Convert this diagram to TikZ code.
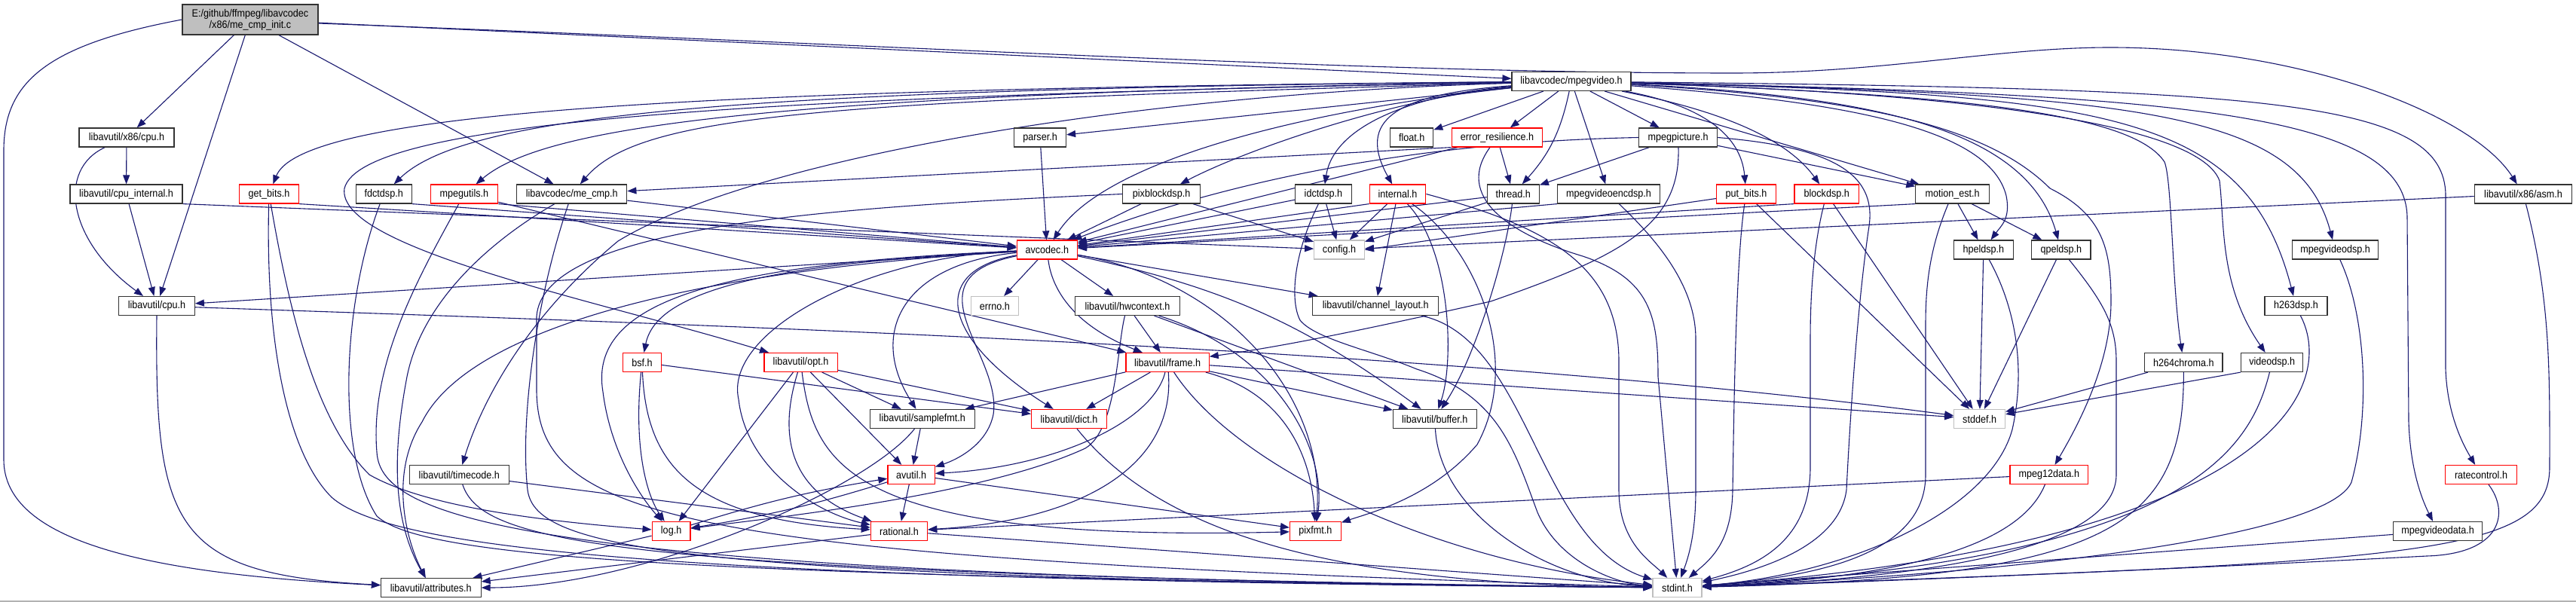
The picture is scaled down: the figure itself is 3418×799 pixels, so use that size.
\documentclass[tikz,border=0pt]{standalone}
\usepackage{fontspec}
\setmainfont{Liberation Sans}[FakeStretch=0.9]
\usetikzlibrary{arrows.meta}
\definecolor{edgec}{HTML}{191970}
\definecolor{boxg}{HTML}{BFBFBF}
\newcommand{\fsz}{\fontsize{14pt}{15pt}\selectfont}
\pgfdeclarelayer{back}
\pgfdeclarelayer{bg}
\pgfsetlayers{back,bg,main}
\begin{document}
\begin{tikzpicture}[x=1pt,y=-1pt,
  nb/.style={draw=black!80,line width=1.2pt,fill=white,minimum height=25pt,inner sep=0pt,font=\fsz},
  nr/.style={nb,draw=red},
  ng/.style={nb,draw=boxg},
  e/.style={draw=edgec,line width=1.1pt,-{Triangle[length=12pt,width=9pt]}}]
\useasboundingbox (0,0) rectangle (3418,799);
\begin{pgfonlayer}{back}
\fill[white] (0,0) rectangle (3418,799);
\draw[black!30,line width=2pt] (0,798) -- (3418,798);
\end{pgfonlayer}

% ---------- nodes ----------
\node[nb,fill=boxg,minimum width=180pt,minimum height=40pt,align=center] (root) at (332,26) {E:/github/ffmpeg/libavcodec\\/x86/me\_cmp\_init.c};
\node[nb,minimum width=158pt] (mpegvideo) at (2085,108) {libavcodec/mpegvideo.h};
\node[nb,minimum width=126pt] (x86cpu) at (168,182.5) {libavutil/x86/cpu.h};
\node[nb,minimum width=69pt] (parser) at (1380,182.5) {parser.h};
\node[nb,minimum width=57pt] (float) at (1873.2,182.5) {float.h};
\node[nr,minimum width=120.6pt] (errres) at (1986.5,182.5) {error\_resilience.h};
\node[nb,minimum width=104pt] (mpegpicture) at (2226.6,182.5) {mpegpicture.h};
\node[nb,minimum width=149pt] (cpuinternal) at (167.5,257.5) {libavutil/cpu\_internal.h};
\node[nr,minimum width=79pt] (getbits) at (357,257.5) {get\_bits.h};
\node[nb,minimum width=74pt] (fdctdsp) at (509.2,257.5) {fdctdsp.h};
\node[nr,minimum width=89.6pt] (mpegutils) at (615.9,257.5) {mpegutils.h};
\node[nb,minimum width=146.2pt] (mecmp) at (758.7,257.5) {libavcodec/me\_cmp.h};
\node[nb,minimum width=102.6pt] (pixblockdsp) at (1541.1,257.5) {pixblockdsp.h};
\node[nb,minimum width=75pt] (idctdsp) at (1755.9,257.5) {idctdsp.h};
\node[nr,minimum width=74.6pt] (internal) at (1854.5,257.5) {internal.h};
\node[nb,minimum width=69pt] (thread) at (2007.8,257.5) {thread.h};
\node[nb,minimum width=135.8pt] (mpegvideoencdsp) at (2134.6,257.5) {mpegvideoencdsp.h};
\node[nr,minimum width=79pt] (putbits) at (2317,257.5) {put\_bits.h};
\node[nr,minimum width=85.4pt] (blockdsp) at (2423.7,257.5) {blockdsp.h};
\node[nb,minimum width=97.6pt] (motionest) at (2590.6,257.5) {motion\_est.h};
\node[nb,minimum width=129.4pt] (asm) at (3348,257.5) {libavutil/x86/asm.h};
\node[nr,minimum width=80pt] (avcodec) at (1389.3,331.5) {avcodec.h};
\node[ng,minimum width=66.6pt] (config) at (1777,331.5) {config.h};
\node[nb,minimum width=78.4pt] (hpeldsp) at (2631.9,331.5) {hpeldsp.h};
\node[nb,minimum width=78.4pt] (qpeldsp) at (2734.8,331.5) {qpeldsp.h};
\node[nb,minimum width=114.5pt] (mpegvideodsp) at (3098.6,331.5) {mpegvideodsp.h};
\node[nb,minimum width=100.6pt] (cpu) at (208,406) {libavutil/cpu.h};
\node[ng,minimum width=62.8pt] (errno) at (1319.9,406) {errno.h};
\node[nb,minimum width=138.6pt] (hwcontext) at (1495.9,406) {libavutil/hwcontext.h};
\node[nb,minimum width=166.8pt] (chlayout) at (1825.2,406) {libavutil/channel\_layout.h};
\node[nb,minimum width=83pt] (h263dsp) at (3046.5,406) {h263dsp.h};
\node[nr,minimum width=50.9pt] (bsf) at (851.9,481) {bsf.h};
\node[nr,minimum width=97.2pt] (opt) at (1062.5,481) {libavutil/opt.h};
\node[nr,minimum width=110.2pt] (frame) at (1549.1,481) {libavutil/frame.h};
\node[nb,minimum width=103.3pt] (h264chroma) at (2897.3,481) {h264chroma.h};
\node[nb,minimum width=82.3pt] (videodsp) at (3014.7,481) {videodsp.h};
\node[nb,minimum width=138.6pt] (samplefmt) at (1223.8,556) {libavutil/samplefmt.h};
\node[nr,minimum width=99.9pt] (dict) at (1418.5,556) {libavutil/dict.h};
\node[nb,minimum width=110.6pt] (buffer) at (1903.8,556) {libavutil/buffer.h};
\node[ng,minimum width=67.7pt] (stddef) at (2626.6,556) {stddef.h};
\node[nb,minimum width=131.8pt] (timecode) at (609.3,630) {libavutil/timecode.h};
\node[nr,minimum width=62.4pt] (avutil) at (1209.1,630) {avutil.h};
\node[nr,minimum width=103.7pt] (mpeg12data) at (2718.8,630) {mpeg12data.h};
\node[nr,minimum width=94.9pt] (ratecontrol) at (3292,630) {ratecontrol.h};
\node[nr,minimum width=50.9pt] (log) at (890.6,705) {log.h};
\node[nr,minimum width=75.4pt] (rational) at (1193,705) {rational.h};
\node[nr,minimum width=67.8pt] (pixfmt) at (1745.4,705) {pixfmt.h};
\node[nb,minimum width=118.4pt] (mpegvideodata) at (3234.6,705) {mpegvideodata.h};
\node[nb,minimum width=132.6pt] (attributes) at (571.8,780) {libavutil/attributes.h};
\node[ng,minimum width=65pt] (stdint) at (2225.5,780) {stdint.h};

% ---------- edges ----------
\begin{pgfonlayer}{bg}
% root
\draw[e] (root.west) .. controls (60,60) and (5,110) .. (5,200) -- (5,610) .. controls (5,720) and (200,762) .. (attributes);
\draw[e] (root) -- (x86cpu);
\draw[e] (root) -- (cpu);
\draw[e] (root) -- (mecmp);
\draw[e] (root) -- (mpegvideo);
\draw[e] ([yshift=-5pt]root.east) .. controls (1200,60) and (1800,97) .. (2300,97) .. controls (2500,97) and (2650,63) .. (2800,63) .. controls (3050,63) and (3280,150) .. (asm);
% x86 / cpu
\draw[e] (x86cpu) -- (cpuinternal);
\draw[e] (x86cpu) .. controls (75,225) and (90,320) .. (cpu);
\draw[e] (cpuinternal) -- (cpu);
\draw[e] (cpuinternal.south east) -- (config);
\draw[e] (cpu.south) .. controls (205,700) and (230,762) .. (attributes);
\draw[e] (cpu) .. controls (900,430) and (1900,460) .. (stddef);
\draw[e] (asm) -- (config);
\draw[e] (asm) .. controls (3385,400) and (3383,500) .. (3383,620) .. controls (3383,740) and (3200,745) .. (stdint);
% mpegvideo.h
\draw[e] (mpegvideo) -- (float);
\draw[e] (mpegvideo) -- (errres);
\draw[e] (mpegvideo) -- (mpegpicture);
\draw[e] (mpegvideo) to[bend left=15] (thread);
\draw[e] (mpegvideo) -- (mpegvideoencdsp);
\draw[e] (mpegvideo) .. controls (1880,125) and (1770,165) .. (idctdsp);
\draw[e] (mpegvideo) .. controls (1850,125) and (1800,160) .. (internal);
\draw[e] (mpegvideo) -- (parser);
\draw[e] (mpegvideo) .. controls (1700,150) and (1460,220) .. (avcodec);
\draw[e] (mpegvideo) .. controls (1850,130) and (1650,200) .. (pixblockdsp);
\draw[e] (mpegvideo) .. controls (1100,135) and (850,150) .. (mecmp);
\draw[e] (mpegvideo) .. controls (1000,125) and (720,170) .. (mpegutils);
\draw[e] (mpegvideo) .. controls (1000,118) and (620,150) .. (fdctdsp);
\draw[e] (mpegvideo) .. controls (900,118) and (400,150) .. (getbits);
\draw[e] (mpegvideo) .. controls (1000,128) and (480,160) .. (457,250) .. controls (445,330) and (800,400) .. (opt);
\draw[e] (mpegvideo) .. controls (1500,125) and (1000,210) .. (820,320) .. controls (700,420) and (640,530) .. (timecode);
\draw[e] (mpegvideo) .. controls (2300,150) and (2375,190) .. (blockdsp);
\draw[e] (mpegvideo) .. controls (2260,140) and (2310,180) .. (putbits);
\draw[e] (mpegvideo) -- (motionest);
\draw[e] (mpegvideo) .. controls (2450,135) and (2640,170) .. (2662,260) .. controls (2668,290) and (2655,300) .. (hpeldsp);
\draw[e] (mpegvideo) .. controls (2500,128) and (2690,175) .. (qpeldsp);
\draw[e] (mpegvideo) .. controls (2600,125) and (2830,150) .. (2872,215) .. controls (2882,240) and (2882,380) .. (h264chroma);
\draw[e] (mpegvideo) .. controls (2650,125) and (2920,170) .. (2945,240) .. controls (2952,300) and (2945,380) .. (videodsp);
\draw[e] (mpegvideo) .. controls (2800,125) and (2980,150) .. (h263dsp);
\draw[e] (mpegvideo) .. controls (2850,125) and (3050,150) .. (mpegvideodsp);
\draw[e] (mpegvideo) .. controls (2900,125) and (3194,150) .. (3194,290) -- (3196,560) .. controls (3198,620) and (3212,660) .. (mpegvideodata);
\draw[e] (mpegvideo) .. controls (3000,118) and (3245,130) .. (3245,260) -- (3245,490) .. controls (3247,550) and (3268,590) .. (ratecontrol);
\draw[e] (mpegvideo) .. controls (2480,130) and (2640,170) .. (2720,250) .. controls (2790,285) and (2801,330) .. (2801,400) .. controls (2801,480) and (2760,560) .. (mpeg12data);
% level 3 headers
\draw[e] (getbits.south east) -- (avcodec);
\draw[e] (getbits) .. controls (385,420) and (420,560) .. (490,630) .. controls (560,670) and (700,690) .. (log);
\draw[e] (getbits) .. controls (352,450) and (380,600) .. (440,660) .. controls (520,730) and (900,770) .. (stdint);
\draw[e] (fdctdsp.south east) -- (avcodec);
\draw[e] (fdctdsp) .. controls (455,400) and (445,600) .. (500,685) .. controls (560,740) and (900,765) .. (stdint);
\draw[e] (mpegutils.south east) -- (avcodec);
\draw[e] (mpegutils) -- (frame);
\draw[e] (mpegutils) .. controls (560,360) and (490,480) .. (500,600) .. controls (505,690) and (700,765) .. (stdint);
\draw[e] (mecmp) -- (avcodec);
\draw[e] (mecmp) .. controls (650,320) and (560,400) .. (540,500) .. controls (525,580) and (515,680) .. (attributes);
\draw[e] (mecmp) .. controls (710,400) and (690,560) .. (700,650) .. controls (710,730) and (900,768) .. (stdint);
\draw[e] (pixblockdsp) -- (avcodec);
\draw[e] (pixblockdsp) -- (config);
\draw[e] (pixblockdsp.west) .. controls (1100,275) and (720,300) .. (712,420) -- (712,520) .. controls (715,690) and (900,740) .. (stdint);
\draw[e] (idctdsp) -- (config);
\draw[e] (idctdsp) -- (avcodec);
\draw[e] (idctdsp) .. controls (1715,340) and (1712,400) .. (1725,425) .. controls (1745,450) and (1820,465) .. (1880,490) .. controls (1990,525) and (2010,600) .. (2040,680) .. controls (2070,750) and (2150,775) .. (stdint);
\draw[e] (internal.south west) -- (avcodec);
\draw[e] (internal) -- (config);
\draw[e] (internal) -- (chlayout);
\draw[e] (internal) .. controls (1925,330) and (1930,480) .. (buffer);
\draw[e] (internal) .. controls (1960,330) and (2020,480) .. (1960,590) .. controls (1900,660) and (1820,680) .. (pixfmt);
\draw[e] (internal.east) .. controls (2050,300) and (2148,350) .. (2148,480) -- (2148,650) .. controls (2148,720) and (2190,745) .. (stdint);
\draw[e] (thread) -- (avcodec);
\draw[e] (thread) -- (config);
\draw[e] (thread) .. controls (2000,330) and (1960,470) .. (buffer);
\draw[e] (errres) -- (avcodec);
\draw[e] (errres) -- (thread);
\draw[e] (errres.south west) -- (mecmp);
\draw[e] (errres) .. controls (1930,260) and (2000,310) .. (2100,340) .. controls (2190,370) and (2200,420) .. (2200,500) -- (stdint);
\draw[e] (mpegpicture) -- (thread);
\draw[e] (mpegpicture) .. controls (2230,300) and (2150,340) .. (1978,400) .. controls (1800,440) and (1700,460) .. (frame);
\draw[e] (mpegpicture.west) .. controls (1800,190) and (1550,270) .. (avcodec);
\draw[e] (mpegpicture) -- (motionest);
\draw[e] (mpegpicture.east) .. controls (2430,195) and (2490,230) .. (2480,300) .. controls (2465,400) and (2455,550) .. (2450,650) .. controls (2440,730) and (2320,760) .. (stdint);
\draw[e] (mpegvideoencdsp.south west) -- (avcodec);
\draw[e] (mpegvideoencdsp) .. controls (2200,320) and (2250,380) .. (2250,450) -- (2250,650) .. controls (2250,710) and (2240,740) .. (stdint);
\draw[e] ([yshift=-6pt]putbits.west) -- (config.east);
\draw[e] (putbits) .. controls (2302,350) and (2300,600) .. (2299,650) .. controls (2298,720) and (2270,742) .. (stdint);
\draw[e] (putbits) -- (stddef);
\draw[e] (blockdsp.south west) -- (avcodec);
\draw[e] (blockdsp) .. controls (2405,330) and (2402,400) .. (2402,450) -- (2402,620) .. controls (2402,720) and (2330,752) .. (stdint);
\draw[e] (blockdsp) -- (stddef);
\draw[e] (motionest.south west) -- (avcodec);
\draw[e] (motionest) -- (hpeldsp);
\draw[e] (motionest) -- (qpeldsp);
\draw[e] (motionest) .. controls (2560,330) and (2555,380) .. (2555,430) -- (2555,630) .. controls (2555,740) and (2400,766) .. (stdint);
\draw[e] (hpeldsp) -- (stddef);
\draw[e] (hpeldsp) .. controls (2670,400) and (2690,480) .. (2670,570) .. controls (2640,680) and (2450,762) .. (stdint);
\draw[e] (qpeldsp) -- (stddef);
\draw[e] (qpeldsp) .. controls (2790,400) and (2808,430) .. (2808,480) -- (2808,630) .. controls (2808,720) and (2600,766) .. (stdint);
\draw[e] (h264chroma) -- (stddef);
\draw[e] (h264chroma) .. controls (2898,700) and (2800,766) .. (stdint);
\draw[e] (videodsp.south west) -- (stddef);
\draw[e] (videodsp) .. controls (2985,600) and (2900,742) .. (stdint);
\draw[e] ([xshift=6pt]h263dsp.south) .. controls (3100,510) and (3030,720) .. (stdint);
\draw[e] (mpegvideodsp) .. controls (3140,420) and (3145,550) .. (3120,640) .. controls (3090,710) and (2700,760) .. (stdint);
\draw[e] (mpeg12data) .. controls (2690,700) and (2600,764) .. (stdint);
\draw[e] (mpeg12data) -- (rational);
\draw[e] (ratecontrol) .. controls (3330,680) and (3320,735) .. (3220,738) .. controls (2800,760) and (2400,775) .. (stdint);
\draw[e] (mpegvideodata) -- (stdint);
\draw[e] (parser) -- (avcodec);
% avcodec.h
\draw[e] (avcodec) -- (errno);
\draw[e] (avcodec) -- (hwcontext);
\draw[e] (avcodec) -- (chlayout);
\draw[e] (avcodec) -- (cpu);
\draw[e] (avcodec) .. controls (1200,350) and (1150,440) .. (samplefmt);
\draw[e] (avcodec) .. controls (1230,360) and (1250,450) .. (dict);
\draw[e] (avcodec) .. controls (1200,370) and (1330,470) .. (1318,550) .. controls (1310,590) and (1270,610) .. (avutil);
\draw[e] (avcodec) .. controls (1395,380) and (1420,430) .. (frame);
\draw[e] (avcodec) to[bend left=12] (buffer);
\draw[e] (avcodec) .. controls (1620,370) and (1760,520) .. (pixfmt);
\draw[e] (avcodec) .. controls (1150,340) and (960,440) .. (980,530) .. controls (990,620) and (1080,680) .. (rational);
\draw[e] (avcodec) .. controls (950,350) and (780,400) .. (800,520) .. controls (810,600) and (850,660) .. (log);
\draw[e] (avcodec) .. controls (1000,350) and (870,390) .. (bsf);
\draw[e] (avcodec) .. controls (900,360) and (620,440) .. (560,560) .. controls (515,630) and (540,720) .. (attributes);
% libavutil level
\draw[e] (bsf) -- (dict);
\draw[e] (bsf) .. controls (840,600) and (860,660) .. (log);
\draw[e] (bsf) .. controls (858,620) and (920,690) .. (rational);
\draw[e] (opt) -- (log);
\draw[e] (opt) .. controls (1035,570) and (1040,650) .. (rational);
\draw[e] (opt) -- (avutil);
\draw[e] (opt) -- (samplefmt);
\draw[e] (opt) -- (dict);
\draw[e] (opt) .. controls (1080,620) and (1130,720) .. (pixfmt);
\draw[e] (hwcontext) -- (frame);
\draw[e] (hwcontext) -- (buffer);
\draw[e] (hwcontext) .. controls (1700,470) and (1760,600) .. (pixfmt);
\draw[e] (hwcontext) .. controls (1482,460) and (1482,570) .. (1440,595) .. controls (1300,660) and (1000,690) .. (log);
\draw[e] (chlayout) .. controls (2030,450) and (2040,720) .. (stdint);
\draw[e] (frame) -- (samplefmt);
\draw[e] (frame) -- (dict);
\draw[e] (frame) .. controls (1530,560) and (1400,620) .. (avutil);
\draw[e] (frame) .. controls (1560,610) and (1450,690) .. (rational);
\draw[e] (frame) .. controls (1640,620) and (1900,745) .. (stdint);
\draw[e] (frame) .. controls (1700,520) and (1740,600) .. (pixfmt);
\draw[e] (frame) -- (buffer);
\draw[e] (frame) -- (stddef);
\draw[e] (samplefmt) -- (avutil);
\draw[e] (samplefmt) .. controls (1150,650) and (850,780) .. (attributes);
\draw[e] (dict) .. controls (1550,720) and (1800,775) .. (stdint);
\draw[e] (buffer) .. controls (1910,680) and (2050,772) .. (stdint);
\draw[e] (timecode) -- (rational);
\draw[e] (timecode) .. controls (640,720) and (800,762) .. (stdint);
\draw[e] (avutil) -- (rational);
\draw[e] (avutil) -- (pixfmt);
\draw[e] (avutil) to[bend left=4] (log);
\draw[e] (log) to[bend left=4] (avutil);
\draw[e] (log) -- (attributes);
\draw[e] (rational) -- (attributes);
\draw[e] (rational) -- (stdint);
\end{pgfonlayer}
\end{tikzpicture}
\end{document}
